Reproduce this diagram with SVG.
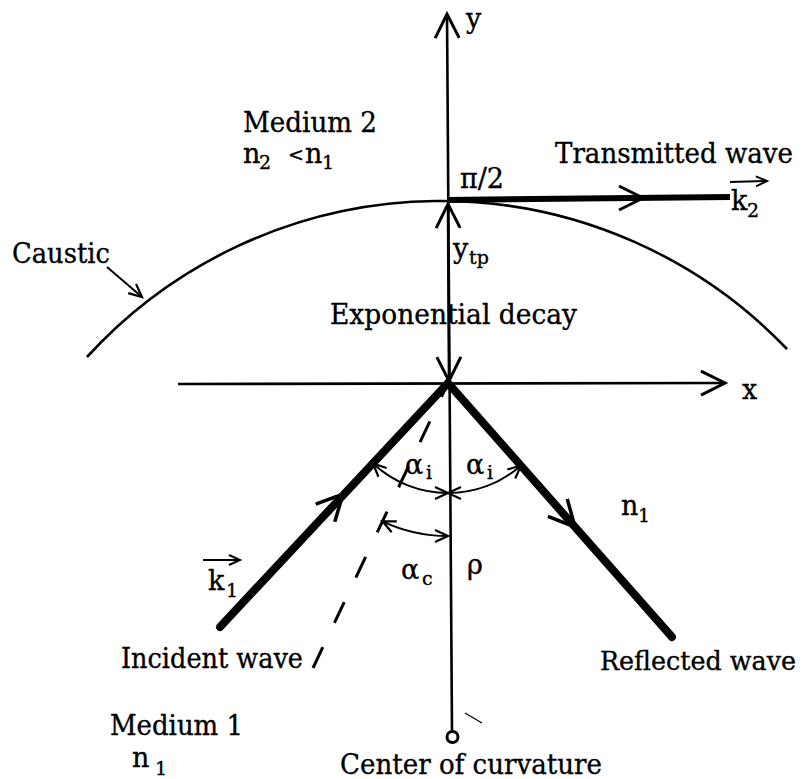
<svg xmlns="http://www.w3.org/2000/svg" width="805" height="779" viewBox="0 0 805 779">
<style>
.t{font-family:"DejaVu Serif","Liberation Serif",serif;font-size:27px;fill:#000;stroke:#000;stroke-width:0.35}
.s{font-size:19px}
.ln{fill:none;stroke:#000;stroke-width:2.6}
.thin{fill:none;stroke:#000;stroke-width:2}
.thick{fill:none;stroke:#000;stroke-width:8}
</style>
<defs>
<marker id="big" viewBox="-28 -14 30 28" markerWidth="30" markerHeight="28" refX="0" refY="0" orient="auto-start-reverse" markerUnits="userSpaceOnUse" overflow="visible"><path d="M-24,-12 L0,0 L-24,12" fill="none" stroke="#000" stroke-width="3"/></marker>
<marker id="mid" viewBox="-30 -16 32 32" markerWidth="32" markerHeight="32" refX="0" refY="0" orient="auto" markerUnits="userSpaceOnUse" overflow="visible"><path d="M-26,-13 L0,0 L-26,13" fill="none" stroke="#000" stroke-width="3.5"/></marker>
<marker id="med" viewBox="-16 -8 18 16" markerWidth="18" markerHeight="16" refX="0" refY="0" orient="auto-start-reverse" markerUnits="userSpaceOnUse" overflow="visible"><path d="M-13,-6 L0,0 L-13,6" fill="none" stroke="#000" stroke-width="2.2"/></marker>
<marker id="sm" viewBox="-12 -6 14 12" markerWidth="14" markerHeight="12" refX="0" refY="0" orient="auto" markerUnits="userSpaceOnUse" overflow="visible"><path d="M-11,-5 L0,0 L-11,5" fill="none" stroke="#000" stroke-width="2"/></marker>
</defs>

<g id="connectors">
  <path class="ln" d="M452,731 L447,14" marker-end="url(#big)"/>
  <path class="ln" d="M178,384 L725,383" marker-end="url(#big)"/>
  <path class="ln" d="M448,204 L449,381" marker-start="url(#big)" marker-end="url(#big)"/>
  <path class="ln" d="M87,357 A479,479 0 0,1 787,349"/>
  <path class="thin" d="M107,267 L142,297" marker-end="url(#med)"/>
  <path d="M313,668 L448,383" fill="none" stroke="#000" stroke-width="3" stroke-dasharray="23 27"/>
  <path class="thick" d="M220,627 L448,383 L672,637" stroke-linejoin="miter" stroke-linecap="round"/>
  <path d="M300,540 L343,494" fill="none" stroke="none" marker-end="url(#mid)"/>
  <path d="M530,477 L575,527" fill="none" stroke="none" marker-end="url(#mid)"/>
  <path d="M448,200 L730,197" fill="none" stroke="#000" stroke-width="6"/>
  <path d="M600,198 L643,198" fill="none" stroke="none" marker-end="url(#big)"/>
  <path class="thin" d="M373,463.5 A110,110 0 0,0 448,493" marker-start="url(#med)" marker-end="url(#med)"/>
  <path class="thin" d="M448,493 A110,110 0 0,0 521,465.4" marker-start="url(#med)" marker-end="url(#med)"/>
  <path class="thin" d="M382.5,521.3 A153,153 0 0,0 448,536" marker-start="url(#med)" marker-end="url(#med)"/>
  <path class="thin" d="M203,560 L240,560" marker-end="url(#sm)"/>
  <path class="thin" d="M730,182 L767,181" marker-end="url(#sm)"/>
  <path d="M465,713 L482,723" fill="none" stroke="#000" stroke-width="1.3"/>
</g>

<g id="center">
  <circle cx="452.5" cy="737" r="5.5" fill="#fff" stroke="#000" stroke-width="3"/>
  <text class="t" x="340" y="774" textLength="262" lengthAdjust="spacingAndGlyphs">Center of curvature</text>
</g>

<g id="labels">
  <text class="t" x="466" y="28">y</text>
  <text class="t" x="742" y="399">x</text>
  <text class="t" x="243" y="132" textLength="134" lengthAdjust="spacingAndGlyphs">Medium 2</text>
  <text class="t" x="243" y="163">n</text><text class="t s" x="259" y="169">2</text>
  <text class="t" x="288" y="161" style="font-size:19px">&lt;</text>
  <text class="t" x="305" y="163">n</text><text class="t s" x="322" y="169">1</text>
  <text class="t" x="555" y="163" textLength="238" lengthAdjust="spacingAndGlyphs">Transmitted wave</text>
  <text class="t" x="460" y="188">π/2</text>
  <text class="t" x="731" y="210">k</text><text class="t s" x="747" y="217">2</text>
  <text class="t" x="12" y="263" textLength="98" lengthAdjust="spacingAndGlyphs">Caustic</text>
  <text class="t" x="453" y="258">y</text><text class="t s" x="469" y="264">tp</text>
  <text class="t" x="330" y="324" textLength="247" lengthAdjust="spacingAndGlyphs">Exponential decay</text>
  <text class="t" x="405" y="474">α</text><text class="t s" x="426" y="479">i</text>
  <text class="t" x="466" y="474">α</text><text class="t s" x="487" y="479">i</text>
  <text class="t" x="401" y="579">α</text><text class="t s" x="422" y="585">c</text>
  <text class="t" x="467" y="574">ρ</text>
  <text class="t" x="621" y="515">n</text><text class="t s" x="638" y="522">1</text>
  <text class="t" x="208" y="590">k</text><text class="t s" x="226" y="597">1</text>
  <text class="t" x="121" y="668" textLength="182" lengthAdjust="spacingAndGlyphs">Incident wave</text>
  <text class="t" x="600" y="670" style="font-size:26px" textLength="196" lengthAdjust="spacingAndGlyphs">Reflected wave</text>
  <text class="t" x="110" y="735" textLength="133" lengthAdjust="spacingAndGlyphs">Medium 1</text>
  <text class="t" x="132" y="767">n</text><text class="t s" x="155" y="775">1</text>
</g>
</svg>
